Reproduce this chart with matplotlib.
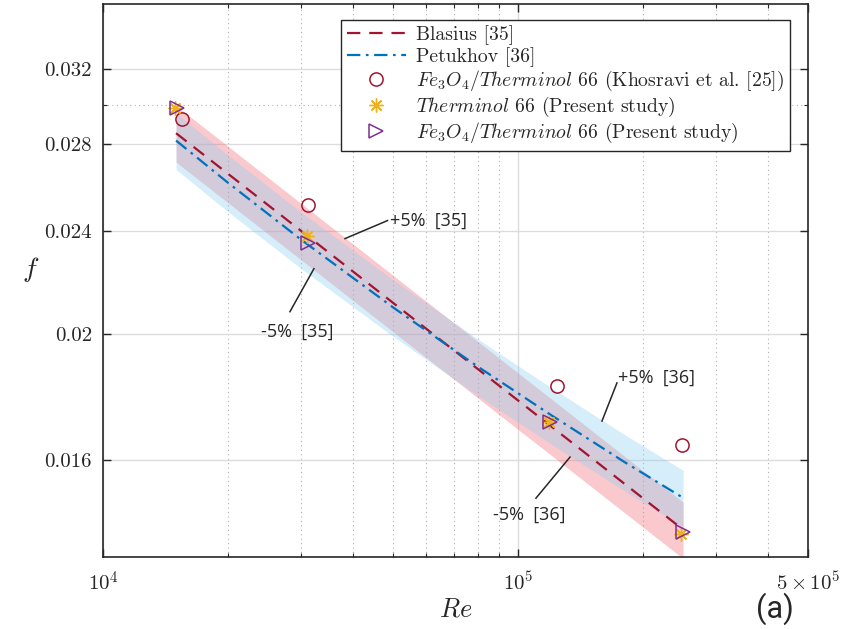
import matplotlib
matplotlib.use("Agg")
import matplotlib.pyplot as plt
import numpy as np
from matplotlib.ticker import NullFormatter, FixedLocator

plt.rcParams["mathtext.fontset"] = "cm"
plt.rcParams["font.family"] = ["cmr10", "DejaVu Serif"]
plt.rcParams["axes.unicode_minus"] = False

# Correlation curves (Blasius and Petukhov) sampled along Re
re_corr = [15000, 20000, 30000, 50000, 80000, 120000, 180000, 250000]
f_blasius = [0.02855, 0.02657, 0.02401, 0.02113, 0.01879, 0.01698, 0.01534, 0.01413]
f_petukhov = [0.02818, 0.02615, 0.02364, 0.02096, 0.01887, 0.01732, 0.01594, 0.01495]
band = 0.05

# Measured friction factors
re_khosravi = [15470, 31130, 123960, 248000]
f_khosravi = [0.02927, 0.02512, 0.01824, 0.01643]
re_base = [14910, 30960, 118760, 247100]
f_base = [0.02985, 0.02380, 0.01709, 0.01401]
re_nano = [15050, 31190, 119300, 250200]
f_nano = [0.02983, 0.02350, 0.01709, 0.01406]

yticks = [0.016, 0.02, 0.024, 0.028, 0.032]
ytick_labels = ["0.016", "0.02", "0.024", "0.028", "0.032"]
xticks = [1e4, 1e5, 5e5]
xtick_labels = [r"$10^4$", r"$10^5$", r"$5\times10^5$"]

c_red = "#A2142F"
c_blue = "#0072BD"
c_yel = "#EDB120"
c_pur = "#7E2F8E"
txt = "#262626"

fig = plt.figure(figsize=(8.49, 6.29), dpi=100)
ax = fig.add_axes([0.1213, 0.1145, 0.8304, 0.879])
ax.set_xscale("log")
ax.set_yscale("log")
ax.set_xlim(1e4, 5e5)
ax.set_ylim(0.01346, 0.0359)

rc = np.array(re_corr)
fb = np.array(f_blasius)
fp = np.array(f_petukhov)
ax.fill_between(rc, fb * (1 - band), fb * (1 + band), color=(0.94, 0.40, 0.45),
                alpha=0.35, lw=0, zorder=1)
ax.fill_between(rc, fp * (1 - band), fp * (1 + band), color=(0.55, 0.80, 0.95),
                alpha=0.35, lw=0, zorder=1)

ax.plot(rc, fb, ls=(0, (6, 4)), color=c_red, lw=1.6, label="Blasius [35]", zorder=3)
ax.plot(rc, fp, ls=(0, (6, 2.5, 1.2, 2.5)), color=c_blue, lw=1.6,
        label="Petukhov [36]", zorder=3)
ax.plot(re_khosravi, f_khosravi, "o", mfc="none", mec=c_red, ms=9.5, mew=1.1,
        label=r"$Fe_3O_4/Therminol$ 66 (Khosravi et al. [25])", zorder=4)
ax.plot(re_base, f_base, ls="none", marker=(8, 2, 0), color=c_yel, ms=10, mew=1.0,
        label=r"$Therminol$ 66 (Present study)", zorder=4)
ax.plot(re_nano, f_nano, ">", mfc="none", mec=c_pur, ms=10.5, mew=1.1,
        label=r"$Fe_3O_4/Therminol$ 66 (Present study)", zorder=5)

# grids
ax.yaxis.set_major_locator(FixedLocator(yticks))
ax.yaxis.set_minor_locator(FixedLocator([0.03]))
ax.set_yticklabels(ytick_labels)
ax.yaxis.set_minor_formatter(NullFormatter())
ax.xaxis.set_major_locator(FixedLocator(xticks))
ax.set_xticklabels(xtick_labels)
xminor = [k * 1e4 for k in range(2, 10)] + [2e5, 3e5, 4e5]
ax.xaxis.set_minor_locator(FixedLocator(xminor))
ax.xaxis.set_minor_formatter(NullFormatter())
ax.grid(True, which="major", color="#dcdcdc", lw=1.0, ls="-", zorder=0)
ax.grid(True, which="minor", color="#b0b0b0", lw=0.8, ls=(0, (1, 3)), zorder=0)
ax.set_axisbelow(True)

ax.tick_params(which="both", direction="in", top=True, right=True, colors=txt,
               labelsize=15)
ax.tick_params(which="major", length=6, width=1.0)
ax.tick_params(which="minor", length=3, width=0.8)
ax.tick_params(axis="x", pad=10)
ax.tick_params(axis="y", pad=8)
for s in ax.spines.values():
    s.set_color(txt)
    s.set_linewidth(1.2)

ax.set_xlabel(r"$Re$", fontsize=19, color=txt, labelpad=2)
ax.set_ylabel(r"$f$", fontsize=20, color=txt, rotation=0, va="center", ha="center")
ax.yaxis.set_label_coords(-0.103, 0.52)

leg = ax.legend(loc="upper right", bbox_to_anchor=(0.974, 0.972), fontsize=14.2,
                frameon=True, fancybox=False, edgecolor="#262626", framealpha=1,
                handlelength=3.0, labelspacing=0.1, borderpad=0.3,
                handletextpad=0.5, borderaxespad=0)
leg.get_frame().set_linewidth(1.0)
for t in leg.get_texts():
    t.set_color(txt)

# +/-5 % band annotations
sans = ["Open Sans", "DejaVu Sans"]
notes = [
    ("+5%  [35]", (38300, 0.02368), (48500, 0.02445), (49150, 0.02445)),
    ("-5%  [35]", (32240, 0.02245), (28220, 0.02080), (24030, 0.02007)),
    ("+5%  [36]", (159400, 0.01713), (173200, 0.01833), (174200, 0.01850)),
    ("-5%  [36]", (133500, 0.01607), (110500, 0.01494), (87030, 0.01450)),
]
for label, tip, end, pos in notes:
    ax.plot([tip[0], end[0]], [tip[1], end[1]], color=txt, lw=1.1, zorder=6)
    ax.text(pos[0], pos[1], label, fontsize=13, family=sans, color=txt,
            ha="left", va="center", zorder=6)

fig.text(0.913, 0.033, "(a)", fontsize=22, family=["Roboto", "DejaVu Sans"],
         color=txt, ha="center", va="center")

fig.savefig("out.png", dpi=100)
